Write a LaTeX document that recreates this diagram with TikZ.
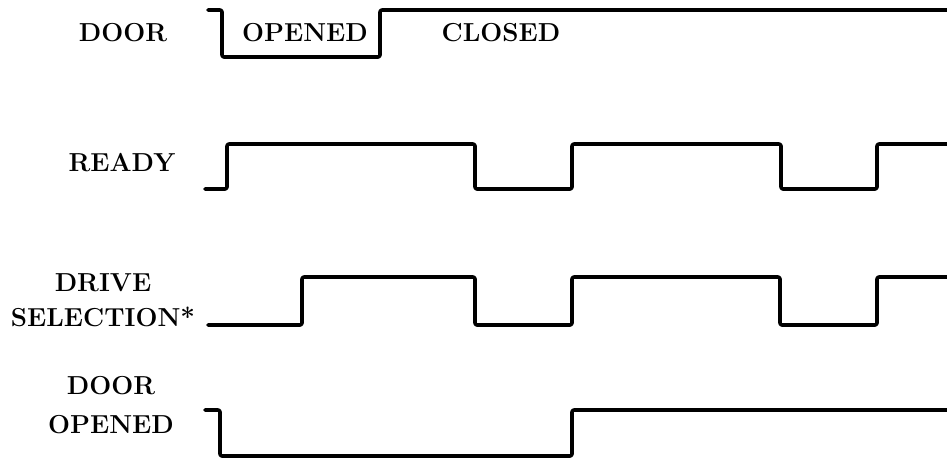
\documentclass[tikz,border=0pt]{standalone}
\usepackage{fontspec}

\begin{document}
\begin{tikzpicture}[x=1pt,y=-1pt,line join=round,line cap=round,
        wave/.style={line width=3.6pt, rounded corners=2pt},
        lbl/.style={font=\fontsize{26}{30}\selectfont\bfseries, align=center, inner sep=0pt}]
        \useasboundingbox (0,0) rectangle (947,461);

        % draw the signal names
        \node[lbl] (door)   at (123,33)  {DOOR};
        \node[lbl] (ready)  at (122,163) {READY};
        \node[lbl] (drive)  at (103,300) {DRIVE\\[5pt]SELECTION*};
        \node[lbl] (dooropen) at (111,405) {DOOR\\[9pt]OPENED};

        % draw the door states
        \node[lbl] (opened) at (305,33) {OPENED};
        \node[lbl] (closed) at (501,33) {CLOSED};

        % draw the door signal
        \draw[wave] (208,10) -- (222,10) -- (222,57) -- (380,57)
              -- (380,10) -- (947,10);

        % draw the ready signal
        \draw[wave] (205,189) -- (227,189) -- (227,144) -- (475,144)
              -- (475,189) -- (572,189) -- (572,144) -- (781,144)
              -- (781,189) -- (877,189) -- (877,144) -- (947,144);

        % draw the drive selection signal
        \draw[wave] (208,325) -- (302,325) -- (302,277) -- (475,277)
              -- (475,325) -- (572,325) -- (572,277) -- (780,277)
              -- (780,325) -- (877,325) -- (877,277) -- (947,277);

        % draw the door opened signal
        \draw[wave] (205,410) -- (220,410) -- (220,456) -- (572,456)
              -- (572,410) -- (947,410);
\end{tikzpicture}
\end{document}
